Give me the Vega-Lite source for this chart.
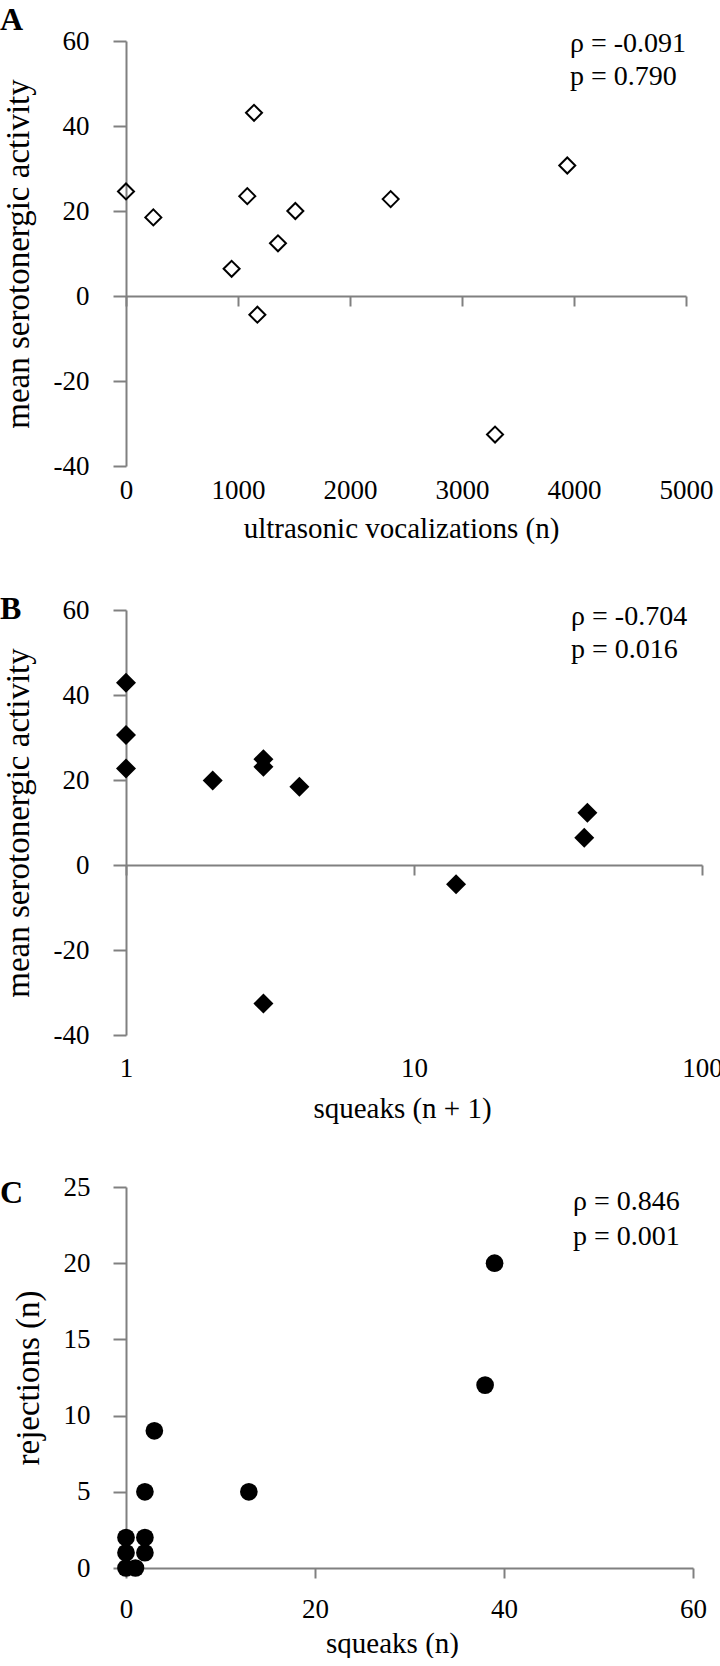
{
  "$schema": "https://vega.github.io/schema/vega-lite/v6.json",
  "background": "white",
  "padding": {"left": 0, "top": 3, "right": 0, "bottom": 0},
  "spacing": 50,
  "config": {
    "font": "Liberation Serif",
    "view": {"stroke": null},
    "axis": {
      "grid": false,
      "domainColor": "#808080",
      "tickColor": "#808080",
      "domainWidth": 2,
      "tickWidth": 2,
      "labelFont": "Liberation Serif",
      "labelFontSize": 27,
      "labelColor": "black",
      "labelFlush": false,
      "labelOverlap": false,
      "titleFont": "Liberation Serif",
      "titleFontWeight": "normal",
      "titleColor": "black"
    },
    "axisX": {"titleFontSize": 29, "tickSize": 10, "labelAngle": 0},
    "axisY": {"titleFontSize": 33, "tickSize": 13, "labelPadding": 24, "titlePadding": 18},
    "title": {"font": "Liberation Serif", "fontSize": 32, "fontWeight": "bold", "anchor": "start", "frame": "group", "color": "black", "baseline": "alphabetic"}
  },
  "vconcat": [
    {
      "width": 560,
      "height": 425,
      "title": {"text": "A", "dx": -126, "offset": -9.5},
      "layer": [
        {
          "data": {"values": [
            {"x": 0, "y": 24.6}, {"x": 244, "y": 18.5}, {"x": 943, "y": 6.4},
            {"x": 1083, "y": 23.5}, {"x": 1143, "y": 43.1}, {"x": 1173, "y": -4.4},
            {"x": 1357, "y": 12.4}, {"x": 1512, "y": 20.0}, {"x": 2363, "y": 22.8},
            {"x": 3295, "y": -32.6}, {"x": 3940, "y": 30.7}
          ]},
          "mark": {"type": "point", "shape": "diamond", "filled": false, "size": 256, "strokeWidth": 2, "color": "black", "opacity": 1},
          "encoding": {
            "x": {"field": "x", "type": "quantitative", "scale": {"domain": [0, 5000], "nice": false},
              "axis": {"title": "ultrasonic vocalizations (n)", "values": [0, 1000, 2000, 3000, 4000, 5000], "labelExpr": "'' + datum.value", "offset": -170, "labelPadding": 171, "titlePadding": 18, "titleX": 275}},
            "y": {"field": "y", "type": "quantitative", "scale": {"domain": [-40, 60], "nice": false},
              "axis": {"title": "mean serotonergic activity", "values": [-40, -20, 0, 20, 40, 60], "labelExpr": "'' + datum.value"}}
          }
        },
        {
          "data": {"values": [
            {"x": 3964, "y": 59.3, "label": "ρ = -0.091"},
            {"x": 3964, "y": 51.5, "label": "p = 0.790"}
          ]},
          "mark": {"type": "text", "align": "left", "baseline": "middle", "fontSize": 28, "font": "Liberation Serif", "color": "black"},
          "encoding": {
            "x": {"field": "x", "type": "quantitative"},
            "y": {"field": "y", "type": "quantitative"},
            "text": {"field": "label"}
          }
        }
      ]
    },
    {
      "width": 576,
      "height": 425,
      "title": {"text": "B", "dx": -126, "offset": -30},
      "layer": [
        {
          "data": {"values": [
            {"x": 1, "y": 42.9}, {"x": 1, "y": 30.6}, {"x": 1, "y": 22.7},
            {"x": 2, "y": 19.9}, {"x": 3, "y": 24.9}, {"x": 3, "y": 23.1},
            {"x": 4, "y": 18.4}, {"x": 3, "y": -32.6}, {"x": 14, "y": -4.5},
            {"x": 40, "y": 12.3}, {"x": 39, "y": 6.4}
          ]},
          "mark": {"type": "point", "shape": "diamond", "filled": true, "size": 400, "color": "black", "opacity": 1},
          "encoding": {
            "x": {"field": "x", "type": "quantitative", "scale": {"type": "log", "domain": [1, 100], "nice": false},
              "axis": {"title": "squeaks (n + 1)", "values": [1, 10, 100], "labelExpr": "'' + datum.value", "offset": -170, "labelPadding": 180, "titlePadding": 29, "titleX": 276}},
            "y": {"field": "y", "type": "quantitative", "scale": {"domain": [-40, 60], "nice": false},
              "axis": {"title": "mean serotonergic activity", "values": [-40, -20, 0, 20, 40, 60], "labelExpr": "'' + datum.value"}}
          }
        },
        {
          "data": {"values": [
            {"x": 35.1, "y": 58.4, "label": "ρ = -0.704"},
            {"x": 35.1, "y": 50.7, "label": "p = 0.016"}
          ]},
          "mark": {"type": "text", "align": "left", "baseline": "middle", "fontSize": 28, "font": "Liberation Serif", "color": "black"},
          "encoding": {
            "x": {"field": "x", "type": "quantitative"},
            "y": {"field": "y", "type": "quantitative"},
            "text": {"field": "label"}
          }
        }
      ]
    },
    {
      "width": 567,
      "height": 381,
      "title": {"text": "C", "dx": -126, "offset": -37},
      "layer": [
        {
          "data": {"values": [
            {"x": 0, "y": 2}, {"x": 0, "y": 1}, {"x": 0, "y": 0}, {"x": 1, "y": 0},
            {"x": 2, "y": 2}, {"x": 2, "y": 1}, {"x": 2, "y": 5}, {"x": 3, "y": 9},
            {"x": 13, "y": 5}, {"x": 38, "y": 12}, {"x": 39, "y": 20}
          ]},
          "mark": {"type": "point", "shape": "circle", "filled": true, "size": 313, "color": "black", "opacity": 1},
          "encoding": {
            "x": {"field": "x", "type": "quantitative", "scale": {"domain": [0, 60], "nice": false},
              "axis": {"title": "squeaks (n)", "values": [0, 20, 40, 60], "labelExpr": "'' + datum.value", "labelPadding": 18, "titlePadding": 7, "titleX": 266}},
            "y": {"field": "y", "type": "quantitative", "scale": {"domain": [0, 25], "nice": false},
              "axis": {"title": "rejections (n)", "values": [0, 5, 10, 15, 20, 25], "labelExpr": "'' + datum.value", "labelPadding": 23}}
          }
        },
        {
          "data": {"values": [
            {"x": 47.3, "y": 24.0, "label": "ρ = 0.846"},
            {"x": 47.3, "y": 21.7, "label": "p = 0.001"}
          ]},
          "mark": {"type": "text", "align": "left", "baseline": "middle", "fontSize": 28, "font": "Liberation Serif", "color": "black"},
          "encoding": {
            "x": {"field": "x", "type": "quantitative"},
            "y": {"field": "y", "type": "quantitative"},
            "text": {"field": "label"}
          }
        }
      ]
    }
  ]
}
